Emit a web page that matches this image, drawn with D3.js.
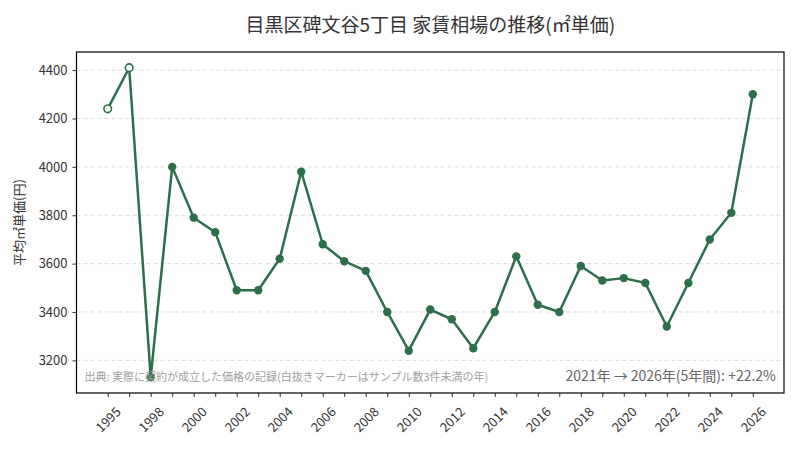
<!DOCTYPE html>
<html>
<head>
<meta charset="utf-8">
<script src="https://cdn.jsdelivr.net/npm/d3@7"></script>
<style>
  body { margin: 0; background: #fff; }
  text { font-family: "Noto Sans CJK JP", "Noto Sans", sans-serif; }
</style>
</head>
<body>
<div id="chart"></div>
<script>
// years on a categorical axis (labels shown on every other slot)
const years = [1995, 1996, 1998, 1999, 2000, 2001, 2002, 2003, 2004, 2005,
  2006, 2007, 2008, 2009, 2010, 2011, 2012, 2013, 2014, 2015,
  2016, 2017, 2018, 2019, 2020, 2021, 2022, 2023, 2024, 2025, 2026];
const prices = [4240, 4410, 3130, 4000, 3790, 3730, 3490, 3490, 3620, 3980,
  3680, 3610, 3570, 3400, 3240, 3410, 3370, 3250, 3400, 3630,
  3430, 3400, 3590, 3530, 3540, 3520, 3340, 3520, 3700, 3810, 4300];
// true where sample count < 3 (hollow marker)
const smallSample = years.map(y => y < 1998);
const yTicks = [3200, 3400, 3600, 3800, 4000, 4200, 4400];

const width = 800;
const height = 450;
const margin = { top: 52, right: 16, bottom: 57, left: 76.5 };
const color = "#2d6e4b";

const svg = d3.select("#chart")
  .append("svg")
  .attr("width", width)
  .attr("height", height);

const x = d3.scalePoint()
  .domain(d3.range(years.length))
  .range([margin.left, width - margin.right])
  .padding(1.45);

const y = d3.scaleLinear()
  .domain([3065, 4475])
  .range([height - margin.bottom, margin.top]);

// grid lines
svg.append("g")
  .selectAll("line")
  .data(yTicks)
  .enter().append("line")
  .attr("x1", margin.left)
  .attr("x2", width - margin.right)
  .attr("y1", d => y(d))
  .attr("y2", d => y(d))
  .style("stroke", "#dcdcdc")
  .style("stroke-dasharray", "4,3")
  .style("stroke-width", 1);

// y axis
const yAxis = svg.append("g")
  .attr("transform", `translate(${margin.left},0)`)
  .call(d3.axisLeft(y).tickValues(yTicks).tickFormat(d3.format("d")).tickSize(4).tickPadding(5));
yAxis.select(".domain").remove();
yAxis.selectAll("text").style("font-size", "13px").style("fill", "#333");
yAxis.selectAll("line").style("stroke", "#333");

// x axis
const xAxis = svg.append("g")
  .attr("transform", `translate(0,${height - margin.bottom})`)
  .call(d3.axisBottom(x).tickSize(4).tickFormat(""));
xAxis.select(".domain").remove();
xAxis.selectAll("line").style("stroke", "#333");

svg.append("g")
  .selectAll("text")
  .data(d3.range(0, years.length, 2))
  .enter().append("text")
  .attr("transform", i => `translate(${x(i)},${height - margin.bottom + 26}) rotate(-45)`)
  .attr("text-anchor", "middle")
  .attr("dominant-baseline", "central")
  .style("font-size", "13px")
  .style("fill", "#333")
  .text(i => years[i]);

// frame
svg.append("rect")
  .attr("x", margin.left)
  .attr("y", margin.top)
  .attr("width", width - margin.right - margin.left)
  .attr("height", height - margin.bottom - margin.top)
  .style("fill", "none")
  .style("stroke", "#000")
  .style("stroke-width", 1.2);

// line
const line = d3.line()
  .x((d, i) => x(i))
  .y(d => y(d));

svg.append("path")
  .datum(prices)
  .attr("d", line)
  .style("fill", "none")
  .style("stroke", color)
  .style("stroke-width", 2.5)
  .style("stroke-linejoin", "round");

svg.append("g")
  .selectAll("circle")
  .data(prices)
  .enter().append("circle")
  .attr("cx", (d, i) => x(i))
  .attr("cy", d => y(d))
  .attr("r", (d, i) => smallSample[i] ? 3.8 : 4.2)
  .style("fill", (d, i) => smallSample[i] ? "#fff" : color)
  .style("stroke", color)
  .style("stroke-width", (d, i) => smallSample[i] ? 1.6 : 0);

// titles and notes
svg.append("text")
  .attr("x", (margin.left + width - margin.right) / 2)
  .attr("y", 32)
  .attr("text-anchor", "middle")
  .style("font-size", "19px")
  .style("fill", "#333")
  .text("目黒区碑文谷5丁目 家賃相場の推移(㎡単価)");

svg.append("text")
  .attr("transform", `translate(24,${(margin.top + height - margin.bottom) / 2}) rotate(-90)`)
  .attr("text-anchor", "middle")
  .style("font-size", "13px")
  .style("fill", "#333")
  .text("平均㎡単価(円)");

svg.append("text")
  .attr("x", margin.left + 8)
  .attr("y", height - margin.bottom - 12)
  .style("font-size", "11px")
  .style("fill", "#a0a0a0")
  .text("出典: 実際に契約が成立した価格の記録(白抜きマーカーはサンプル数3件未満の年)");

const first = years.indexOf(2021);
const last = years.length - 1;
const change = (prices[last] / prices[first] - 1) * 100;
svg.append("text")
  .attr("x", width - margin.right - 8)
  .attr("y", height - margin.bottom - 12)
  .attr("text-anchor", "end")
  .style("font-size", "14px")
  .style("fill", "#666")
  .text(`${years[first]}年 → ${years[last]}年(${years[last] - years[first]}年間): +${change.toFixed(1)}%`);
</script>
</body>
</html>
